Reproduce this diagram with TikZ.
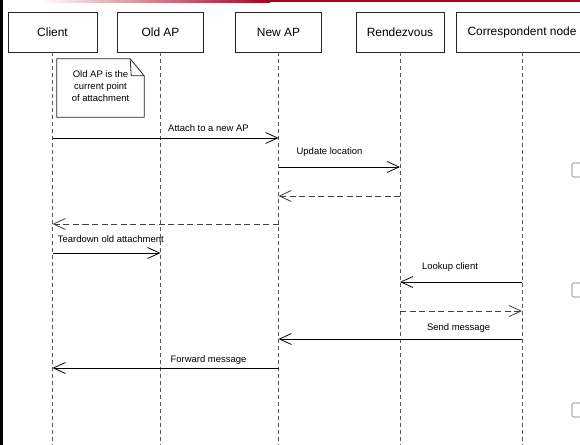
\documentclass[tikz,border=0pt]{standalone}
\usepackage{fontspec}
\setmainfont{Liberation Sans}
\usetikzlibrary{arrows.meta,calc}
\definecolor{band}{RGB}{165,0,33}
\tikzset{
	head/.style={draw=black!85, line width=0.8bp, minimum height=40bp, minimum width=88bp,
			inner sep=0pt, font=\fontsize{12}{14}\selectfont},
	life/.style={draw=black!65, line width=0.8bp, dash pattern=on 4bp off 3bp},
	msg/.style={draw=black, line width=0.8bp, -{Straight Barb[length=12bp,width=11bp]}},
	ret/.style={msg, draw=black!75, dash pattern=on 6bp off 3.5bp},
	lbl/.style={font=\fontsize{9.5}{12}\selectfont, inner sep=0pt}
}

\begin{document}
\begin{tikzpicture}[x=1bp, y=-1bp]
        \useasboundingbox (0,0) rectangle (580,445);
        \fill[black] (0,0) rectangle (3,445);
        \shade[left color=white, right color=band] (40,0) rectangle (270,2.5);
        \fill[band] (270,0) rectangle (580,2.5);

        \node[head, minimum width=89bp] (client) at (52.5,32) {Client};
        \node[head, minimum width=86bp] (oldap) at (160.5,32) {Old AP};
        \node[head, minimum width=86bp] (newap) at (278.5,32) {New AP};
        \node[head] (rdv) at (400,32) {Rendezvous};
        \node[head, minimum width=132bp] (cn) at (522,32) {Correspondent node};

        \foreach \n in {client,oldap,newap,rdv,cn}
            \draw[life] (\n.south) -- (\n.south |- 0,445);

        % note on the client lifeline
        \node[inner sep=0pt, minimum width=87bp, minimum height=58bp] (note) at (100.5,88) {};
        \draw[draw=black!85, line width=0.8bp, fill=white] (note.north west) -- ($(note.north east)+(-14,0)$)
            -- ($(note.north east)+(0,17)$) -- (note.south east) -- (note.south west) -- cycle;
        \draw[draw=black!85, line width=0.8bp] ($(note.north east)+(-14,0)$) -- ($(note.north east)+(-13,17)$)
            -- ($(note.north east)+(0,17)$);
        \node[lbl, align=center] (notetext) at (note.center) [yshift=2bp] {Old AP is the\\current point\\of attachment};

        \foreach \a/\b/\y/\s/\p/\d/\t in {
                client/newap/138/msg/0.69/10/Attach to a new AP,
                newap/rdv/167/msg/0.42/15/Update location,
                rdv/newap/196/ret/0.5/0/,
                newap/client/224/ret/0.5/0/,
                client/oldap/253/msg/0.54/14/Teardown old attachment,
                cn/rdv/282/msg/0.59/15/Lookup client,
                rdv/cn/311/ret/0.5/0/,
                cn/newap/339/msg/0.26/11/Send message,
                newap/client/368/msg/0.31/8/Forward message}
        {
            \coordinate (from) at (\a.south |- 0,\y);
            \coordinate (to) at (\b.south |- 0,\y);
            \draw[\s] (from) -- (to) node[lbl, pos=\p, yshift=\d bp] {\t};
        }

        \foreach \y in {163,283,403}
            \draw[black!30, line width=1.2bp, rounded corners=2bp] (572,\y) rectangle (592,\y+14);
    \end{tikzpicture}
\end{document}
